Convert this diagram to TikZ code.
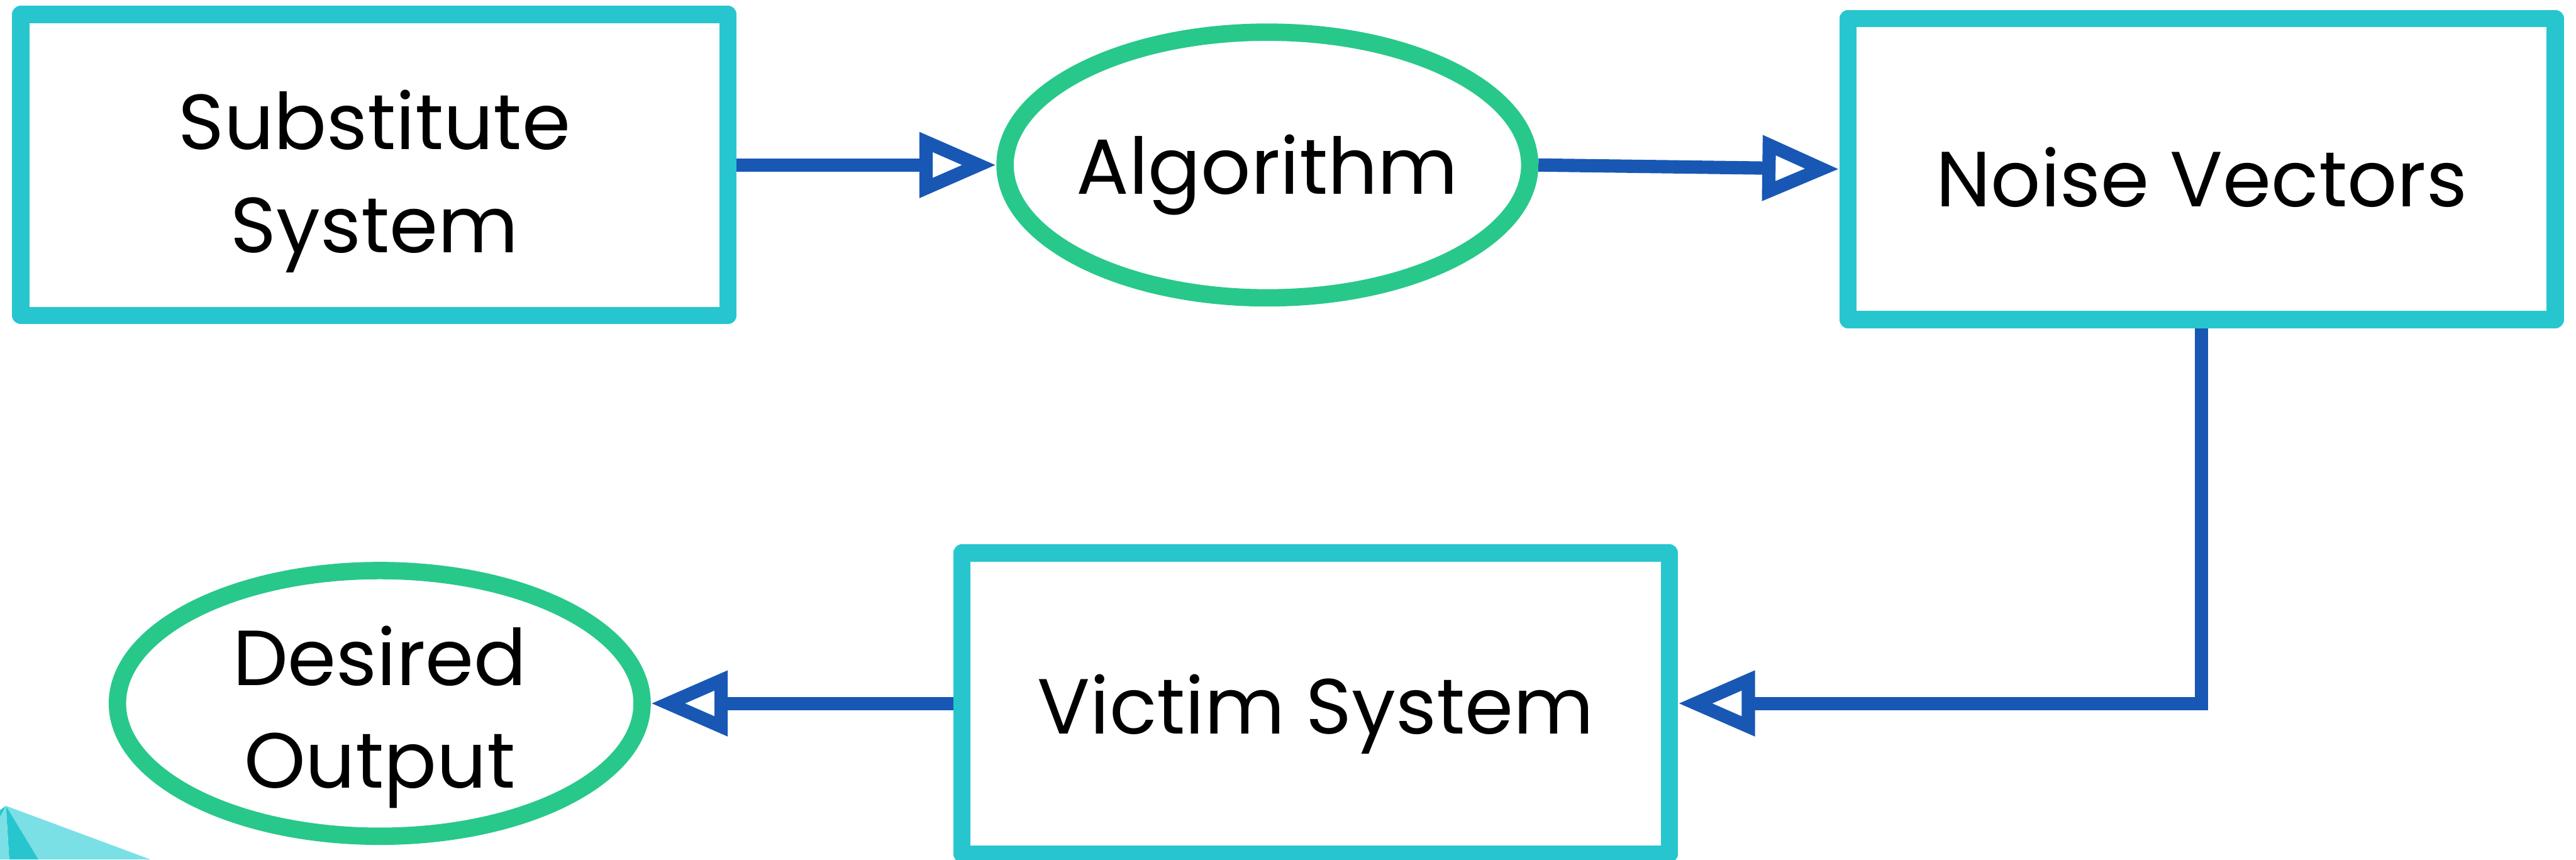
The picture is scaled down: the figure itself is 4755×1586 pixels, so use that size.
\documentclass[tikz,border=0pt]{standalone}
\usepackage{fontspec}
\setmainfont{Poppins}
\usetikzlibrary{shapes.geometric, positioning, arrows.meta}

\definecolor{boxcyan}{HTML}{27C6CF}
\definecolor{lightcyan}{HTML}{7AE0E6}
\definecolor{ovalgreen}{HTML}{28C88A}
\definecolor{flowblue}{HTML}{1858B4}

% taller first line, pushes the text a little lower in its shape
\newcommand{\padtop}[1]{\rule{0pt}{#1}}

\begin{document}
\begin{tikzpicture}[
    x=0.01cm, y=-0.01cm,
    label text/.style={
        align=center,
        font=\fontsize{41}{54}\selectfont
    },
    sysbox/.style={
        rectangle,
        draw=boxcyan,
        line width=0.32cm,
        line join=round,
        fill=white,
        minimum width=13.05cm,
        minimum height=5.55cm,
        label text
    },
    stepoval/.style={
        ellipse,
        draw=ovalgreen,
        line width=0.32cm,
        fill=white,
        minimum width=9.68cm,
        minimum height=4.9cm,
        inner sep=-0.4cm,
        label text
    },
    ptr/.style={
        -{Triangle[open, length=1.42cm, width=1.15cm]},
        line width=0.245cm,
        flowblue
    }
]
    \useasboundingbox (0,0) rectangle (4755,1586);

    % Corner shard
    \fill[lightcyan] (11,1487) -- (278,1586) -- (71,1586) -- cycle;
    \fill[boxcyan] (11,1487) -- (71,1586) -- (17,1586) -- cycle;
    \fill[lightcyan] (11,1487) -- (17,1586) -- (0,1586) -- (0,1507) -- cycle;
    \fill[boxcyan] (11,1487) -- (0,1507) -- (0,1495) -- cycle;

    % Top row
    \node[sysbox] (sub) at (691,304.5) {\padtop{1.7cm}Substitute\\System};
    \node[stepoval, right=4.79cm of sub] (alg) {\padtop{1.45cm}Algorithm};
    \node[sysbox, right=5.55cm of alg, yshift=-0.075cm] (noise) {\padtop{1.4cm}Noise Vectors};

    % Bottom row
    \node[sysbox] (victim) at (2428.5,1298) {\padtop{1.5cm}Victim System};
    \node[stepoval, left=5.58cm of victim] (desired) {\padtop{1.6cm}Desired\\Output};

    % Flow
    \draw[ptr] (sub.east) -- (alg.west);
    \draw[ptr] (alg.east) -- (noise.west);
    \draw[ptr] (noise.south) |- (victim.east);
    \draw[ptr] (victim.west) -- (desired.east);

\end{tikzpicture}
\end{document}
